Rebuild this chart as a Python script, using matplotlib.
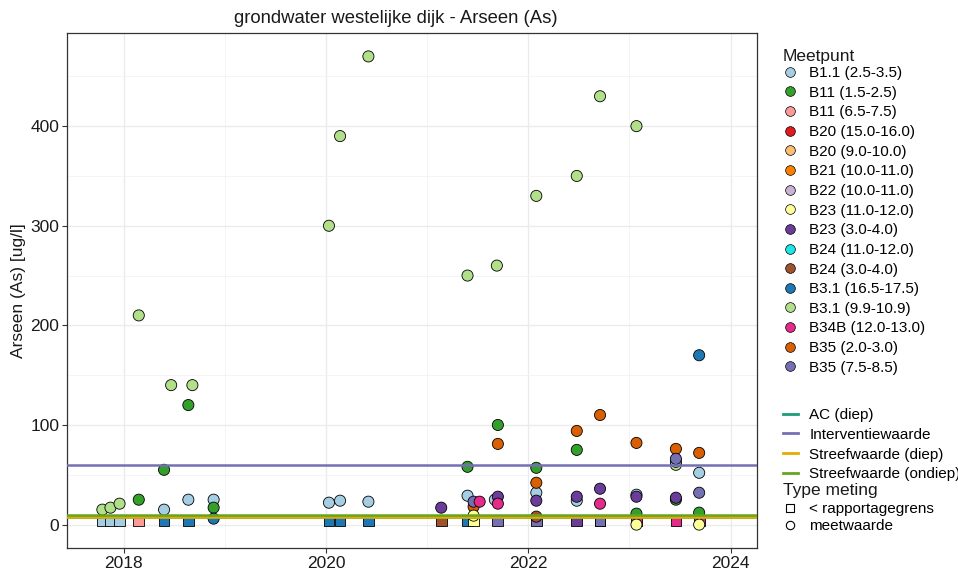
import matplotlib
matplotlib.use("Agg")
import matplotlib.pyplot as plt
from matplotlib.lines import Line2D

plt.rcParams['font.family'] = ['Liberation Sans', 'DejaVu Sans']

# meetpunten en kleuren
punten = ['B1.1 (2.5-3.5)', 'B11 (1.5-2.5)', 'B11 (6.5-7.5)', 'B20 (15.0-16.0)',
          'B20 (9.0-10.0)', 'B21 (10.0-11.0)', 'B22 (10.0-11.0)', 'B23 (11.0-12.0)',
          'B23 (3.0-4.0)', 'B24 (11.0-12.0)', 'B24 (3.0-4.0)', 'B3.1 (16.5-17.5)',
          'B3.1 (9.9-10.9)', 'B34B (12.0-13.0)', 'B35 (2.0-3.0)', 'B35 (7.5-8.5)']
kleuren = ['#A6CEE3', '#33A02C', '#FB9A99', '#E31A1C', '#FDBF6F', '#FF7F00',
           '#CAB2D6', '#FFFF99', '#6A3D9A', '#1CE6E6', '#A0522D', '#1F78B4',
           '#B2DF8A', '#E7298A', '#D95F02', '#7570B3']

# meetwaarden (cirkels)
mw_punt = (['B3.1 (9.9-10.9)'] * 16 + ['B1.1 (2.5-3.5)'] * 13 + ['B11 (1.5-2.5)'] * 11
           + ['B3.1 (16.5-17.5)'] * 2 + ['B23 (3.0-4.0)'] * 7 + ['B35 (2.0-3.0)'] * 8
           + ['B35 (7.5-8.5)'] * 3 + ['B34B (12.0-13.0)'] * 3 + ['B23 (11.0-12.0)'] * 3
           + ['B24 (3.0-4.0)'])
mw_datum = [2017.79, 2017.87, 2017.96, 2018.15, 2018.47, 2018.68, 2020.03, 2020.14,
            2020.42, 2021.40, 2021.69, 2022.08, 2022.48, 2022.71, 2023.07, 2023.46,
            2018.40, 2018.64, 2018.89, 2020.03, 2020.14, 2020.42, 2021.40, 2021.67,
            2022.08, 2022.48, 2023.07, 2023.69, 2023.46,
            2018.15, 2018.40, 2018.64, 2018.89, 2021.40, 2021.70, 2022.08, 2022.48,
            2023.07, 2023.46, 2023.69,
            2018.89, 2023.69,
            2021.14, 2021.70, 2022.08, 2022.48, 2022.71, 2023.07, 2023.46,
            2021.46, 2021.70, 2022.08, 2022.48, 2022.71, 2023.07, 2023.46, 2023.69,
            2021.46, 2023.46, 2023.69,
            2021.52, 2021.70, 2022.71,
            2021.46, 2023.07, 2023.69,
            2022.08]
mw_waarde = [15, 17, 21, 210, 140, 140, 300, 390, 470, 250, 260, 330, 350, 430, 400, 60,
             15, 25, 25, 22, 24, 23, 29, 25, 32, 24, 30, 52, 63,
             25, 55, 120, 17, 58, 100, 57, 75, 11, 25, 12,
             6, 170,
             17, 28, 24, 28, 36, 28, 27,
             18, 81, 42, 94, 110, 82, 76, 72,
             23, 66, 32,
             23, 21, 21,
             9, 0, 0,
             8]

# < rapportagegrens (vierkanten)
rg_punt = (['B1.1 (2.5-3.5)'] * 3 + ['B11 (6.5-7.5)'] + ['B3.1 (16.5-17.5)'] * 6
           + ['B24 (3.0-4.0)', 'B23 (11.0-12.0)', 'B11 (1.5-2.5)']
           + ['B35 (7.5-8.5)'] * 3 + ['B23 (3.0-4.0)'] + ['B34B (12.0-13.0)'] * 3)
rg_datum = [2017.79, 2017.87, 2017.96, 2018.15, 2018.40, 2018.64, 2020.03, 2020.14,
            2020.42, 2021.40, 2021.14, 2021.46, 2022.71, 2021.70, 2022.08, 2022.71,
            2022.48, 2023.07, 2023.46, 2023.69]
rg_waarde = [4] * 20

# normen
norm_namen = ['AC (diep)', 'Interventiewaarde', 'Streefwaarde (diep)', 'Streefwaarde (ondiep)']
norm_waarde = [7.5, 60, 7.2, 10]
norm_kleur = ['#1B9E77', '#7570B3', '#E6AB02', '#66A61E']

kleur = dict(zip(punten, kleuren))

fig = plt.figure(figsize=(9.58, 5.74), dpi=100)
ax = fig.add_axes([0.0700, 0.0453, 0.7199, 0.8972])

ax.scatter(rg_datum, rg_waarde, c=[kleur[p] for p in rg_punt], marker='s', s=60,
           edgecolors='black', linewidths=0.6, zorder=3)
ax.scatter(mw_datum, mw_waarde, c=[kleur[p] for p in mw_punt], marker='o', s=64,
           edgecolors='black', linewidths=0.6, zorder=3)

for w, k in zip(norm_waarde, norm_kleur):
    ax.axhline(w, color=k, lw=1.8, zorder=4)

ax.set_xlim(2017.441, 2024.259)
ax.set_ylim(-23.5, 493.5)
ax.set_xticks([2018, 2020, 2022, 2024])
ax.set_xticks([2019, 2021, 2023], minor=True)
ax.set_yticks([0, 100, 200, 300, 400])
ax.set_yticks([50, 150, 250, 350, 450], minor=True)
ax.grid(True, which='major', color='#EBEBEB', lw=1.0, zorder=0)
ax.grid(True, which='minor', color='#F2F2F2', lw=0.6, zorder=0)
ax.set_axisbelow(True)
ax.tick_params(which='major', length=3.5, width=0.8, color='#333333', labelsize=12.5,
               labelcolor='#1A1A1A', pad=2)
ax.tick_params(which='minor', length=0)
for s in ax.spines.values():
    s.set_color('#333333')
    s.set_linewidth(0.9)
ax.set_ylabel('Arseen (As) [ug/l]', fontsize=12.5, color='#1A1A1A', labelpad=3)

fig.text(0.413, 0.968, 'grondwater westelijke dijk - Arseen (As)', ha='center', va='center',
         fontsize=13.3, color='#1A1A1A')

lx = 0.817  # linkerkant legenda

# legenda meetpunt
fig.text(lx, 1 - 57 / 574, 'Meetpunt', ha='left', va='center', fontsize=12.5,
         color='#1A1A1A')
h1 = [Line2D([], [], ls='none', marker='o', markersize=7, markerfacecolor=k,
             markeredgecolor='black', markeredgewidth=0.5) for k in kleuren]
fig.legend(h1, punten, loc='upper left', bbox_to_anchor=(lx, 1 - 66 / 574),
           frameon=False, fontsize=11, labelspacing=0.37, handlelength=1.0,
           handletextpad=0.75, borderpad=0, borderaxespad=0)

h2 = [Line2D([], [], color=k, lw=2) for k in norm_kleur]
fig.legend(h2, norm_namen, loc='upper left', bbox_to_anchor=(lx, 1 - 408 / 574),
           frameon=False, fontsize=11, labelspacing=0.38, handlelength=1.0,
           handletextpad=0.75, borderpad=0, borderaxespad=0)

fig.text(lx, 1 - 490 / 574, 'Type meting', ha='left', va='center', fontsize=12.5,
         color='#1A1A1A')
h3 = [Line2D([], [], ls='none', marker='s', markersize=6, markerfacecolor='white',
             markeredgecolor='black', markeredgewidth=0.8),
      Line2D([], [], ls='none', marker='o', markersize=6, markerfacecolor='white',
             markeredgecolor='black', markeredgewidth=0.8)]
fig.legend(h3, ['< rapportagegrens', 'meetwaarde'], loc='upper left',
           bbox_to_anchor=(lx, 1 - 502 / 574), frameon=False, fontsize=11,
           labelspacing=0.2, handlelength=1.0, handletextpad=0.75, borderpad=0,
           borderaxespad=0)

fig.savefig('out.png', dpi=100)
